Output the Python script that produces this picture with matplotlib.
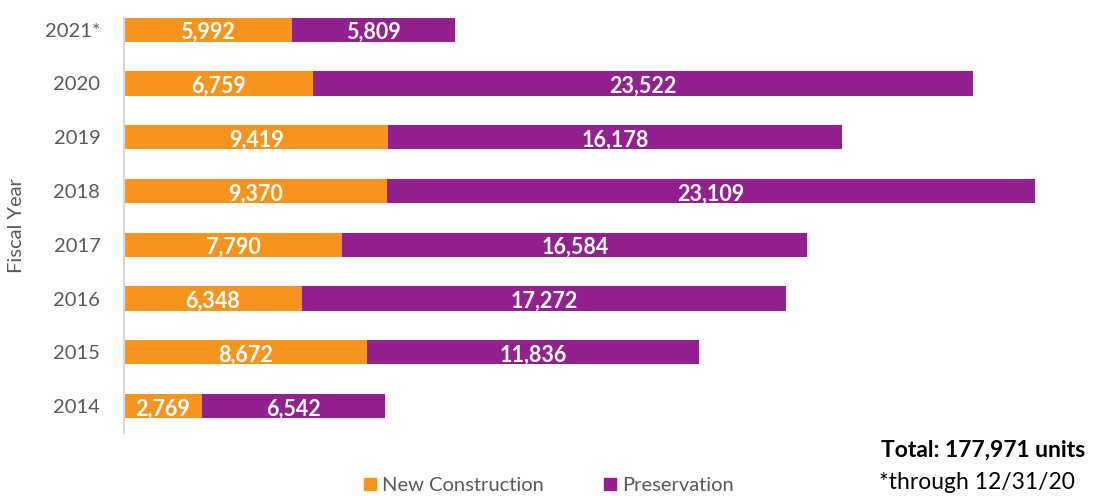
import matplotlib.pyplot as plt
from matplotlib.patches import Patch

years = ["2014", "2015", "2016", "2017", "2018", "2019", "2020", "2021*"]
new_construction = [2769, 8672, 6348, 7790, 9370, 9419, 6759, 5992]
preservation = [6542, 11836, 17272, 16584, 23109, 16178, 23522, 5809]

ORANGE = "#F7941D"
PURPLE = "#93208F"
GRAY = "#595959"

plt.rcParams["font.family"] = ["Lato", "DejaVu Sans"]

fig = plt.figure(figsize=(11.02, 4.96), dpi=100)
ax = fig.add_axes([0.1125, 0.127, 0.865, 0.837])

pos = range(len(years))
h = 0.45
ax.barh(pos, new_construction, height=h, color=ORANGE)
ax.barh(pos, preservation, height=h, left=new_construction, color=PURPLE)

for i, (a, b) in enumerate(zip(new_construction, preservation)):
    ax.text(a / 2, i - 0.05, f"{a:,}", ha="center", va="center",
            color="white", fontsize=15.5, fontweight="bold")
    ax.text(a + b / 2, i - 0.05, f"{b:,}", ha="center", va="center",
            color="white", fontsize=15.5, fontweight="bold")

ax.set_xlim(0, 34000)
ax.set_ylim(-0.5, 7.22)
ax.set_yticks(list(pos))
ax.set_yticklabels(years, fontsize=14.5, color=GRAY)
ax.tick_params(axis="y", length=0, pad=17)
ax.set_xticks([])
for s in ["top", "right", "bottom"]:
    ax.spines[s].set_visible(False)
ax.spines["left"].set_color("#D9D9D9")
ax.spines["left"].set_linewidth(1.5)
ax.set_ylabel("Fiscal Year", fontsize=14.5, color=GRAY, labelpad=14)

handles = [Patch(color=ORANGE, label="New Construction"),
           Patch(color=PURPLE, label="Preservation")]
fig.legend(handles=handles, loc="center", bbox_to_anchor=(0.498, 0.021),
           ncol=2, frameon=False, fontsize=14.5, handlelength=0.6,
           handleheight=0.6, handletextpad=0.3, columnspacing=3.0,
           labelcolor=GRAY)

fig.text(0.985, 0.093, "Total: 177,971 units", ha="right", va="center",
         fontsize=16.5, fontweight="bold", color="black")
fig.text(0.975, 0.027, "*through 12/31/20", ha="right", va="center",
         fontsize=16.5, color="black")

fig.savefig("out.png", dpi=100)
